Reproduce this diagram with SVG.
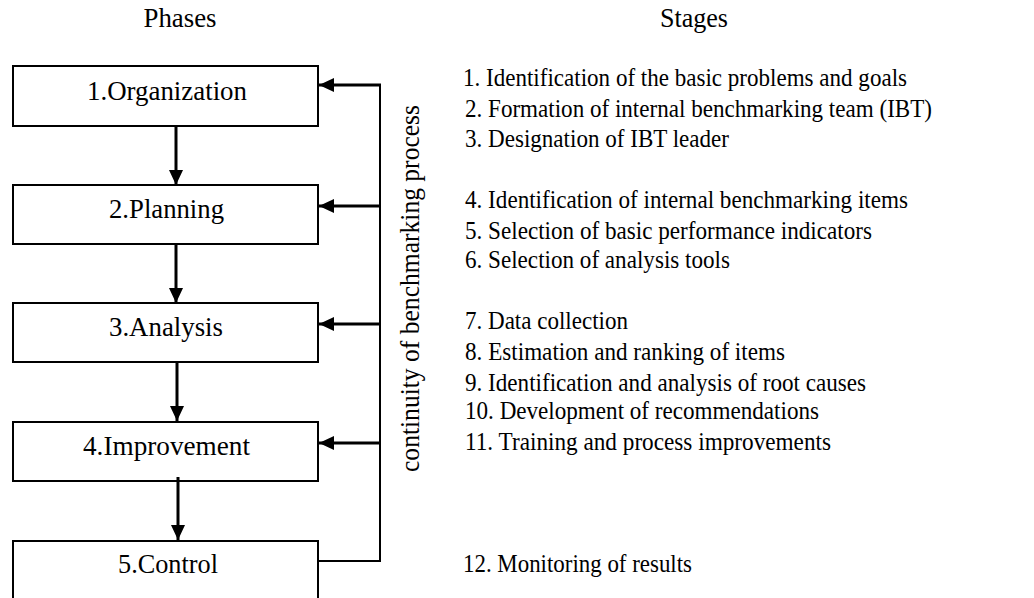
<svg xmlns="http://www.w3.org/2000/svg" width="1034" height="598" viewBox="0 0 1034 598">
  <style>
    .box { fill: #ffffff; stroke: #000000; stroke-width: 2; }
    .lbl { font-family: "Liberation Serif", "Times New Roman", serif; font-size: 27px; fill: #000000; }
    .stage { font-family: "Liberation Serif", "Times New Roman", serif; font-size: 26px; fill: #000000; }
    .arr { stroke: #000000; stroke-width: 3; fill: none; }
    .ln { stroke: #000000; stroke-width: 2; fill: none; }
  </style>
  <defs>
    <marker id="ah" markerUnits="userSpaceOnUse" markerWidth="15" markerHeight="14" refX="15" refY="7" orient="auto">
      <path d="M0,0 L15,7 L0,14 z" fill="#000000"/>
    </marker>
  </defs>
  <rect width="1034" height="598" fill="#ffffff"/>

  <text class="lbl" x="180" y="27" text-anchor="middle" textLength="73" lengthAdjust="spacingAndGlyphs">Phases</text>
  <text class="lbl" x="694" y="27" text-anchor="middle" textLength="68" lengthAdjust="spacingAndGlyphs">Stages</text>

  <g id="node-organization">
    <rect class="box" x="13" y="66" width="305" height="60"/>
    <text class="lbl" x="167" y="100" text-anchor="middle" textLength="160" lengthAdjust="spacingAndGlyphs">1.Organization</text>
  </g>
  <g id="node-planning">
    <rect class="box" x="13" y="185" width="305" height="59"/>
    <text class="lbl" x="166.5" y="218" text-anchor="middle" textLength="115" lengthAdjust="spacingAndGlyphs">2.Planning</text>
  </g>
  <g id="node-analysis">
    <rect class="box" x="13" y="303" width="305" height="59"/>
    <text class="lbl" x="166" y="336" text-anchor="middle" textLength="114" lengthAdjust="spacingAndGlyphs">3.Analysis</text>
  </g>
  <g id="node-improvement">
    <rect class="box" x="13" y="422" width="305" height="59"/>
    <text class="lbl" x="166.5" y="455" text-anchor="middle" textLength="167" lengthAdjust="spacingAndGlyphs">4.Improvement</text>
  </g>
  <g id="node-control">
    <rect class="box" x="13" y="541" width="305" height="70"/>
    <text class="lbl" x="168" y="573" text-anchor="middle" textLength="100" lengthAdjust="spacingAndGlyphs">5.Control</text>
  </g>

  <g id="connectors">
    <line class="arr" x1="176" y1="126" x2="176" y2="185" marker-end="url(#ah)"/>
    <line class="arr" x1="176" y1="244" x2="176" y2="303" marker-end="url(#ah)"/>
    <line class="arr" x1="177" y1="362" x2="177" y2="421" marker-end="url(#ah)"/>
    <line class="arr" x1="178" y1="477" x2="178" y2="540" marker-end="url(#ah)"/>
    <polyline class="ln" points="318,561 380,561 380,84"/>
    <line class="arr" x1="381" y1="85" x2="319" y2="85" marker-end="url(#ah)"/>
    <line class="arr" x1="381" y1="206" x2="319" y2="206" marker-end="url(#ah)"/>
    <line class="arr" x1="381" y1="324" x2="319" y2="324" marker-end="url(#ah)"/>
    <line class="arr" x1="381" y1="443" x2="319" y2="443" marker-end="url(#ah)"/>
  </g>

  <text class="lbl" transform="translate(419,288.5) rotate(-90)" x="0" y="0" text-anchor="middle" textLength="367" lengthAdjust="spacingAndGlyphs">continuity of benchmarking process</text>

  <g id="stages">
    <text class="stage" x="463" y="86" textLength="444" lengthAdjust="spacingAndGlyphs">1. Identification of the basic problems and goals</text>
    <text class="stage" x="465" y="117" textLength="467" lengthAdjust="spacingAndGlyphs">2. Formation of internal benchmarking team (IBT)</text>
    <text class="stage" x="465" y="147" textLength="264" lengthAdjust="spacingAndGlyphs">3. Designation of IBT leader</text>
    <text class="stage" x="465" y="208" textLength="443" lengthAdjust="spacingAndGlyphs">4. Identification of internal benchmarking items</text>
    <text class="stage" x="465" y="239" textLength="407" lengthAdjust="spacingAndGlyphs">5. Selection of basic performance indicators</text>
    <text class="stage" x="465" y="268" textLength="265" lengthAdjust="spacingAndGlyphs">6. Selection of analysis tools</text>
    <text class="stage" x="465" y="329" textLength="163" lengthAdjust="spacingAndGlyphs">7. Data collection</text>
    <text class="stage" x="465" y="360" textLength="320" lengthAdjust="spacingAndGlyphs">8. Estimation and ranking of items</text>
    <text class="stage" x="465" y="391" textLength="401" lengthAdjust="spacingAndGlyphs">9. Identification and analysis of root causes</text>
    <text class="stage" x="465" y="419" textLength="354" lengthAdjust="spacingAndGlyphs">10. Development of recommendations</text>
    <text class="stage" x="465" y="450" textLength="366" lengthAdjust="spacingAndGlyphs">11. Training and process improvements</text>
    <text class="stage" x="463" y="572" textLength="229" lengthAdjust="spacingAndGlyphs">12. Monitoring of results</text>
  </g>
</svg>
